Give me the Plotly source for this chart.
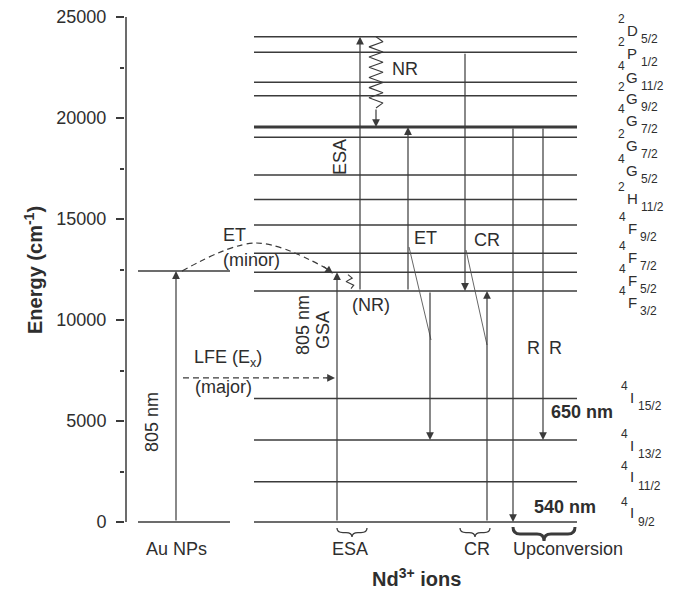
import plotly.graph_objects as go

# ---- energy levels (cm^-1) ----
au_levels = [0, 12420]
nd_levels = [0, 1995, 4060, 6120, 11440, 12370, 13300, 14700, 15970,
             17180, 19050, 19550, 21100, 21770, 23250, 24025]
# term symbols for the Nd3+ levels, bottom to top
term_mult = ["4", "4", "4", "4", "4", "4", "4", "4", "2", "4", "2", "4", "2", "4", "2", "2"]
term_letter = ["I", "I", "I", "I", "F", "F", "F", "F", "H", "G", "G", "G", "G", "G", "P", "D"]
term_j = ["9/2", "11/2", "13/2", "15/2", "3/2", "5/2", "7/2", "9/2", "11/2",
          "5/2", "7/2", "7/2", "9/2", "11/2", "1/2", "5/2"]

tick_vals = [0, 5000, 10000, 15000, 20000, 25000]
tick_text = ["0", "5000", "10000", "15000", "20000", "25000"]
minor_vals = [2500, 7500, 12500, 17500, 22500]
group_labels = ["Au NPs", "ESA", "CR", "Upconversion"]

# named levels used by the transitions
E_GROUND = nd_levels[0]
E_4I13 = nd_levels[2]
E_4F32 = nd_levels[4]
E_4F52 = nd_levels[5]
E_4G72 = nd_levels[11]
E_2P12 = nd_levels[14]
E_2D52 = nd_levels[15]
E_AU = au_levels[1]
E_LFE = 7130

# ---- layout helpers ----
LINE = "#3b3b3b"
TXT = "#2e2e2e"
FONT = "Liberation Sans, Arial, Helvetica, sans-serif"
X_RANGE = [-1, 550]
Y_RANGE = [-3416, 25842]
LETTER_SIZE = 15
# approximate glyph advance widths (em) of the term letters
LETTER_EM = {"I": 0.278, "F": 0.611, "G": 0.778, "H": 0.722, "P": 0.667, "D": 0.722}

fig = go.Figure()


def lines(xs, ys, width=1.5, color=LINE, dash=None, shape="linear"):
    fig.add_trace(go.Scatter(x=xs, y=ys, mode="lines",
                             line=dict(color=color, width=width, dash=dash, shape=shape),
                             hoverinfo="skip", showlegend=False))


def arrow(x, e_from, e_to, x_from=None, width=1.2):
    fig.add_annotation(x=x, y=e_to, ax=x if x_from is None else x_from, ay=e_from,
                       xref="x", yref="y", axref="x", ayref="y", text="",
                       showarrow=True, arrowhead=2, arrowsize=1.3,
                       arrowwidth=width, arrowcolor=LINE, standoff=0)


def text(x, e, s, size=18, angle=0, xanchor="center", xref="x", bold=False):
    if bold:
        s = "<b>" + s + "</b>"
    fig.add_annotation(x=x, y=e, xref=xref, yref="y", text=s, showarrow=False,
                       textangle=angle, xanchor=xanchor, yanchor="middle",
                       font=dict(family=FONT, size=size, color=TXT))


def zigzag(xc, e_top, e_bot, n, amp, drift=0.0):
    xs, ys = [], []
    steps = 2 * n
    for i in range(steps + 1):
        t = i / steps
        off = 0 if i in (0, steps) else (amp if i % 2 else -amp)
        xs.append(xc + drift * t + off)
        ys.append(e_top + (e_bot - e_top) * t)
    lines(xs, ys, width=1.1)


def brace(x0, x1, e_top, depth, width):
    xm = (x0 + x1) / 2
    em = e_top - depth / 2
    eb = e_top - depth
    r = min(7, (x1 - x0) / 5)
    path = (f"M{x0},{e_top} Q{x0},{em} {x0 + r},{em} L{xm - r},{em} "
            f"Q{xm},{em} {xm},{eb} Q{xm},{em} {xm + r},{em} "
            f"L{x1 - r},{em} Q{x1},{em} {x1},{e_top}")
    fig.add_shape(type="path", path=path, xref="x", yref="y",
                  line=dict(color=LINE, width=width))


# ---- y axis line ----
lines([0, 0], [tick_vals[0], tick_vals[-1]], width=1.5)

# ---- Au NP levels ----
xs, ys = [], []
for e in au_levels:
    xs += [12, 104, None]
    ys += [e, e, None]
lines(xs, ys, width=1.5)

# ---- Nd3+ levels ----
xs, ys = [], []
for e in nd_levels:
    if e == E_4G72:
        continue
    xs += [128, 451, None]
    ys += [e, e, None]
lines(xs, ys, width=1.5)
lines([128, 451], [E_4G72, E_4G72], width=3)

# ---- term symbols (multiplicity up-left, J down-right of the letter) ----
label_y = [446, 2228, 3812, 6188, 10891, 11980, 13119, 14554, 16040,
           17426, 18663, 19901, 20990, 22030, 23218, 24356]
for m, L, j, ly in zip(term_mult, term_letter, term_j, label_y):
    half = LETTER_EM[L] * LETTER_SIZE / 2
    fig.add_annotation(x=506, y=ly, xref="x", yref="y", text=m, showarrow=False,
                       xanchor="right", xshift=-half + 0.5, yshift=11,
                       font=dict(family=FONT, size=12, color=TXT))
    fig.add_annotation(x=506, y=ly, xref="x", yref="y", text=L, showarrow=False,
                       xanchor="center", font=dict(family=FONT, size=LETTER_SIZE, color=TXT))
    fig.add_annotation(x=506, y=ly, xref="x", yref="y", text=j, showarrow=False,
                       xanchor="left", xshift=half + 1.5, yshift=-9,
                       font=dict(family=FONT, size=12, color=TXT))

# ---- Au NP excitation ----
arrow(50, au_levels[0], E_AU)
text(26, 4950, "805 nm", angle=-90)

# ET (minor): dashed arc from the Au level to Nd 4F5/2
lines([56, 130, 200], [E_AU, 13812, 12560], width=1.2, dash="6px,4px", shape="spline")
arrow(207, 12700, 12300, x_from=196)
text(108, 14200, "ET")
text(125, 12950, "(minor)")

# LFE (major): dashed horizontal arrow
lines([57, 201], [E_LFE, E_LFE], width=1.2, dash="6px,4px")
arrow(209, E_LFE, E_LFE, x_from=199)
text(102, 8119, "LFE (E<sub>x</sub>)")
text(97, 6680, "(major)")

# ---- ESA column ----
arrow(211, E_GROUND, E_4F52)
text(177, 9752, "805 nm", angle=-90)
text(197, 9505, "GSA", angle=-90)
zigzag(222, 12250, 11550, 2, 3.5, drift=3)
text(245, 10743, "(NR)")
arrow(234, E_4F32, E_2D52)
text(214, 18069, "ESA", angle=-90)
zigzag(250, E_2D52, 20495, 7, 7)
arrow(250, 20495, E_4G72)
text(279, 22426, "NR")

# ---- ET column ----
arrow(282, E_4F32, E_4G72)
arrow(304, E_4F32, E_4I13)
lines([283, 305], [13614, 9010], width=0.9, color="#555555")
text(299, 14059, "ET")

# ---- CR column ----
arrow(339, E_2P12, E_4F32)
arrow(361, E_GROUND, E_4F32)
lines([340, 361], [13465, 8762], width=0.9, color="#555555")
text(361, 13960, "CR")

# ---- upconversion emission ----
arrow(387, E_4G72, E_GROUND)
arrow(417, E_4G72, E_4I13)
text(407, 8614, "R")
text(429, 8614, "R")
text(456, 5446, "650 nm", bold=True)
text(439, 743, "540 nm", bold=True)

# ---- braces and group labels ----
brace(211, 241, -297, 450, 1.3)
brace(334, 364, -297, 450, 1.3)
brace(387, 449, -248, 690, 3)
for gx, g in zip([50, 224, 351, 442], group_labels):
    text(gx, -1337, g)
text(290, -2723, "Nd<sup>3+</sup> ions", size=20, bold=True)

# ---- y title ----
text(-0.167, 12475, "Energy (cm<sup>-1</sup>)", size=20, angle=-90, xref="paper", bold=True)

fig.update_xaxes(range=X_RANGE, visible=False, fixedrange=True)
fig.update_yaxes(range=Y_RANGE, tickvals=tick_vals, ticktext=tick_text,
                 ticks="outside", ticklen=8, tickwidth=1.5, tickcolor=LINE,
                 showgrid=False, zeroline=False, showline=False,
                 ticklabelstandoff=6,
                 tickfont=dict(family=FONT, size=18, color=TXT),
                 minor=dict(tickvals=minor_vals, ticks="outside", ticklen=4,
                            tickwidth=1.5, tickcolor=LINE, showgrid=False))
fig.update_layout(width=676, height=591,
                  margin=dict(l=125, r=0, t=0, b=0, pad=0),
                  plot_bgcolor="white", paper_bgcolor="white",
                  showlegend=False, font=dict(family=FONT, color=TXT))

fig.write_html("out.html")
